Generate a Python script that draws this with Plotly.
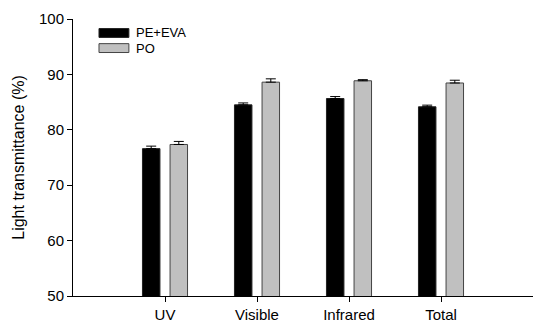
import plotly.graph_objects as go

categories = ["UV", "Visible", "Infrared", "Total"]
pe_eva = [76.6, 84.5, 85.65, 84.15]
pe_eva_err = [0.45, 0.35, 0.35, 0.3]
po = [77.35, 88.6, 88.85, 88.45]
po_err = [0.55, 0.6, 0.2, 0.5]
series_names = ["PE+EVA", "PO"]
yticks = [50, 60, 70, 80, 90, 100]

FONT = "Liberation Sans, Arial, sans-serif"

fig = go.Figure()
fig.add_trace(go.Bar(
    x=categories, y=pe_eva, name=series_names[0],
    width=0.19, offset=-0.245,
    marker=dict(color="black", line=dict(color="#222222", width=1)),
    error_y=dict(type="data", symmetric=False, array=pe_eva_err,
                 arrayminus=[0]*len(pe_eva), color="black", thickness=1, width=5),
    showlegend=False,
))
fig.add_trace(go.Bar(
    x=categories, y=po, name=series_names[1],
    width=0.19, offset=0.055,
    marker=dict(color="#c0c0c0", line=dict(color="#444444", width=1)),
    error_y=dict(type="data", symmetric=False, array=po_err,
                 arrayminus=[0]*len(po), color="black", thickness=1, width=5),
    showlegend=False,
))

# manual legend (paper coords)
legend_items = [("black", "#222222", series_names[0]), ("#c0c0c0", "#444444", series_names[1])]
for i, (fc, lc, label) in enumerate(legend_items):
    yc = 0.9495 - i * 0.0545
    fig.add_shape(type="rect", xref="paper", yref="paper",
                  x0=0.0565, x1=0.1215, y0=yc - 0.016, y1=yc + 0.016,
                  fillcolor=fc, line=dict(color=lc, width=1))
    fig.add_annotation(xref="paper", yref="paper", x=0.136, y=yc,
                       text=label, showarrow=False, xanchor="left", yanchor="middle",
                       xshift=-2, font=dict(family=FONT, size=13, color="black"))

fig.update_layout(
    width=534, height=324,
    margin=dict(l=73, r=1, t=19, b=27.5),
    paper_bgcolor="white", plot_bgcolor="white",
    barmode="overlay",
    font=dict(family=FONT, size=15, color="black"),
    xaxis=dict(range=[-1, 4], showline=True, linecolor="black", linewidth=1,
               ticks="outside", ticklen=5, tickcolor="black", showgrid=False,
               tickfont=dict(size=15), zeroline=False),
    yaxis=dict(range=[50, 100], tickvals=yticks, showline=True, linecolor="black",
               linewidth=1, ticks="outside", ticklen=5, tickcolor="black",
               showgrid=False, zeroline=False, tickfont=dict(size=15),
               title=dict(text="Light transmittance (%)", font=dict(size=16), standoff=10)),
)

fig.write_html("out.html", config={"displayModeBar": False},
               post_script="document.body.style.margin='0';document.body.style.overflow='hidden';")
